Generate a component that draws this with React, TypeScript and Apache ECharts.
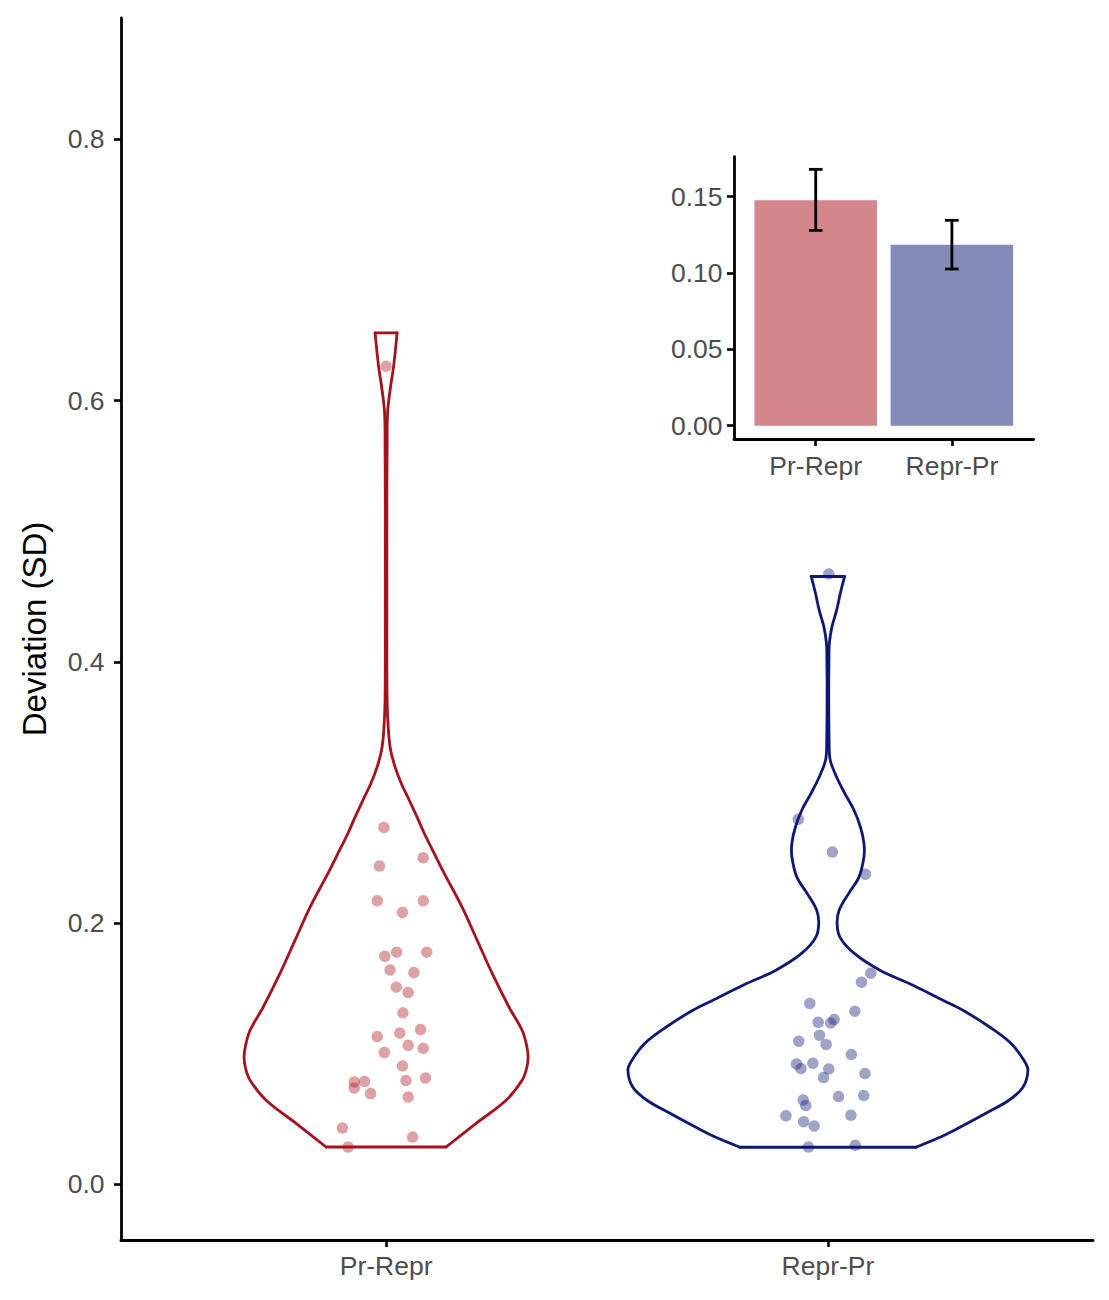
import React, { useEffect, useRef } from "react";
import * as echarts from "echarts";

// ---------- data ----------
const categories = ["Pr-Repr", "Repr-Pr"];
const mainYTicks = [0, 0.2, 0.4, 0.6, 0.8];
const insetYTicks = [0, 0.05, 0.1, 0.15];

// jittered points (value, horizontal jitter in category units)
const prReprY = [0.6263, 0.2733, 0.25, 0.2437, 0.2171, 0.2171, 0.2082, 0.1747, 0.1778, 0.1778, 0.1642, 0.1622, 0.151, 0.1469, 0.1313, 0.1185, 0.1159, 0.1132, 0.1065, 0.1042, 0.1009, 0.0907, 0.0784, 0.0787, 0.0738, 0.0815, 0.0795, 0.0695, 0.0669, 0.0431, 0.0362, 0.0286];
const prReprJitter = [0.0, -0.005, 0.084, -0.015, -0.02, 0.084, 0.037, -0.003, 0.024, 0.092, 0.009, 0.063, 0.023, 0.05, 0.038, 0.078, 0.031, -0.02, 0.05, 0.084, -0.004, 0.037, -0.072, -0.049, -0.072, 0.089, 0.045, -0.035, 0.05, -0.099, 0.06, -0.086];

const reprPrY = [0.4674, 0.2795, 0.2544, 0.2375, 0.1617, 0.1548, 0.1385, 0.1326, 0.1241, 0.1262, 0.1236, 0.1142, 0.1096, 0.1071, 0.0994, 0.0922, 0.0887, 0.0927, 0.0884, 0.0818, 0.0848, 0.0672, 0.068, 0.0646, 0.0603, 0.0526, 0.0529, 0.048, 0.0447, 0.0286, 0.0299];
const reprPrJitter = [0.002, -0.067, 0.01, 0.085, 0.097, 0.076, -0.041, 0.061, -0.022, 0.014, 0.006, -0.019, -0.066, -0.004, 0.053, -0.071, -0.061, -0.034, 0.002, -0.01, 0.084, 0.024, 0.081, -0.056, -0.05, -0.095, 0.052, -0.055, -0.031, -0.044, 0.062];

// violin outlines: value levels (top to bottom) and half-widths in category units
const prReprViolinY = [0.6519, 0.6263, 0.6109, 0.5908, 0.5625, 0.5241, 0.4475, 0.3709, 0.3456, 0.3326, 0.3195, 0.3073, 0.2943, 0.2812, 0.269, 0.2536, 0.2383, 0.2123, 0.187, 0.1617, 0.1356, 0.118, 0.1065, 0.0973, 0.0888, 0.0797, 0.0644, 0.0467, 0.0286];
const prReprViolinW = [0.0249, 0.017, 0.0102, 0.0034, 0.0023, 0.0018, 0.0018, 0.0023, 0.0057, 0.0102, 0.0204, 0.034, 0.0521, 0.0702, 0.086, 0.1086, 0.1313, 0.172, 0.206, 0.2399, 0.2784, 0.3078, 0.318, 0.3214, 0.318, 0.3078, 0.2716, 0.2037, 0.1358];

const reprPrViolinY = [0.4654, 0.4529, 0.4398, 0.4268, 0.4146, 0.4015, 0.3709, 0.3402, 0.3249, 0.3119, 0.2996, 0.2866, 0.2736, 0.2613, 0.2506, 0.2352, 0.223, 0.21, 0.2, 0.1893, 0.177, 0.164, 0.1525, 0.141, 0.1333, 0.1203, 0.108, 0.095, 0.0874, 0.0743, 0.0644, 0.0544, 0.0437, 0.036, 0.0284];
const reprPrViolinW = [0.0378, 0.0283, 0.0199, 0.0091, 0.0034, 0.0023, 0.0018, 0.0027, 0.0052, 0.0197, 0.0378, 0.0589, 0.0736, 0.0815, 0.0815, 0.0702, 0.0475, 0.0256, 0.0208, 0.0272, 0.0589, 0.1177, 0.1924, 0.2603, 0.3056, 0.3667, 0.4142, 0.4436, 0.4527, 0.4414, 0.4097, 0.3576, 0.2988, 0.2535, 0.1992];

// inset bar chart: means and error bar limits
const barMeans = [0.1477, 0.1186];
const barLow = [0.128, 0.1027];
const barHigh = [0.168, 0.1346];

// ---------- styles ----------
const lineColors = ["#a3121d", "#0d1873"];
const pointColors = ["rgba(170,20,32,0.5)", "rgba(16,26,118,0.5)"];
const barColors = ["#d3868c", "#858bb8"];
const FONT = "'Liberation Sans', Arial, sans-serif";
const LABEL = { color: "#4d4d4d", fontSize: 26.5, fontFamily: FONT };
const AXIS_LINE = { show: true, onZero: false, lineStyle: { color: "#000", width: 2.8 } };
const TICK = { show: true, length: 7, lineStyle: { color: "#000", width: 2.6 } };

export default function App() {
  const ref = useRef<HTMLDivElement>(null);
  useEffect(() => {
    document.body.style.margin = "0";
    if (!ref.current) return;
    const chart = echarts.init(ref.current, null, { renderer: "svg" });

    const violins = [
      { y: prReprViolinY, w: prReprViolinW },
      { y: reprPrViolinY, w: reprPrViolinW },
    ];

    const hidden = { show: false };
    const noLine = { show: false, onZero: false };
    const option: any = {
      animation: false,
      backgroundColor: "#fff",
      grid: [
        { left: 121, top: 18, width: 972, height: 1222 }, // 0 main plot
        { left: 121, top: 139.3, width: 972, height: 1045 }, // 1 main y ticks
        { left: 386.1, top: 18, width: 441.8, height: 1222 }, // 2 main x ticks
        { left: 734, top: 156.7, width: 299.6, height: 282.3 }, // 3 inset plot
        { left: 734, top: 196.7, width: 299.6, height: 229 }, // 4 inset y ticks
        { left: 815.7, top: 156.7, width: 136.2, height: 282.3 }, // 5 inset x ticks
      ],
      xAxis: [
        { gridIndex: 0, type: "value", min: 0.4, max: 2.6, axisLine: AXIS_LINE, axisTick: hidden, axisLabel: hidden, splitLine: hidden },
        { gridIndex: 1, type: "value", min: 0.4, max: 2.6, show: false },
        {
          gridIndex: 2, type: "value", min: 1, max: categories.length, interval: 1,
          axisLine: noLine, axisTick: TICK, splitLine: hidden,
          axisLabel: { ...LABEL, margin: 12.5, formatter: (v: number) => categories[Math.round(v) - 1] ?? "" },
        },
        { gridIndex: 3, type: "value", min: 0.4, max: 2.6, axisLine: AXIS_LINE, axisTick: hidden, axisLabel: hidden, splitLine: hidden },
        { gridIndex: 4, type: "value", min: 0.4, max: 2.6, show: false },
        {
          gridIndex: 5, type: "value", min: 1, max: categories.length, interval: 1,
          axisLine: noLine, axisTick: TICK, splitLine: hidden,
          axisLabel: { ...LABEL, margin: 13.5, formatter: (v: number) => categories[Math.round(v) - 1] ?? "" },
        },
      ],
      yAxis: [
        { gridIndex: 0, type: "value", min: -0.0426, max: 0.893, axisLine: AXIS_LINE, axisTick: hidden, axisLabel: hidden, splitLine: hidden },
        {
          gridIndex: 1, type: "value", min: mainYTicks[0], max: mainYTicks[mainYTicks.length - 1],
          interval: mainYTicks[1] - mainYTicks[0],
          axisLine: noLine, axisTick: TICK, splitLine: hidden,
          axisLabel: { ...LABEL, margin: 16.5, formatter: (v: number) => v.toFixed(1) },
        },
        { gridIndex: 2, type: "value", min: 0, max: 1, show: false },
        { gridIndex: 3, type: "value", min: -0.00872, max: 0.17628, axisLine: AXIS_LINE, axisTick: hidden, axisLabel: hidden, splitLine: hidden },
        {
          gridIndex: 4, type: "value", min: insetYTicks[0], max: insetYTicks[insetYTicks.length - 1],
          interval: insetYTicks[1] - insetYTicks[0],
          axisLine: noLine, axisTick: TICK, splitLine: hidden,
          axisLabel: { ...LABEL, margin: 11.5, formatter: (v: number) => v.toFixed(2) },
        },
        { gridIndex: 5, type: "value", min: 0, max: 1, show: false },
      ],
      graphic: [
        {
          type: "text",
          x: 34,
          y: 629,
          rotation: Math.PI / 2,
          style: {
            text: "Deviation (SD)",
            fill: "#000",
            fontSize: 33,
            fontFamily: FONT,
            textAlign: "center",
            textVerticalAlign: "middle",
          },
        },
      ],
      series: [
        {
          type: "custom",
          xAxisIndex: 0,
          yAxisIndex: 0,
          silent: true,
          data: [[1, 0.3], [2, 0.3]],
          renderItem: (params: any, api: any) => {
            const i = params.dataIndex;
            const c = api.value(0);
            const v = violins[i];
            const right = v.y.map((yy, k) => api.coord([c + v.w[k], yy]));
            const left = v.y.map((yy, k) => api.coord([c - v.w[k], yy]));
            const n = right.length - 1;
            const st = { fill: "none", stroke: lineColors[i], lineWidth: 2.8, lineJoin: "round", lineCap: "round" };
            return {
              type: "group",
              children: [
                { type: "polyline", shape: { points: right, smooth: 0.35 }, style: st },
                { type: "polyline", shape: { points: left, smooth: 0.35 }, style: st },
                { type: "line", shape: { x1: left[0][0], y1: left[0][1], x2: right[0][0], y2: right[0][1] }, style: st },
                { type: "line", shape: { x1: left[n][0], y1: left[n][1], x2: right[n][0], y2: right[n][1] }, style: st },
              ],
            };
          },
        },
        {
          type: "scatter",
          xAxisIndex: 0,
          yAxisIndex: 0,
          symbolSize: 11.5,
          itemStyle: { color: pointColors[0] },
          data: prReprY.map((y, k) => [1 + prReprJitter[k], y]),
          z: 3,
        },
        {
          type: "scatter",
          xAxisIndex: 0,
          yAxisIndex: 0,
          symbolSize: 11.5,
          itemStyle: { color: pointColors[1] },
          data: reprPrY.map((y, k) => [2 + reprPrJitter[k], y]),
          z: 3,
        },
        {
          type: "custom",
          xAxisIndex: 3,
          yAxisIndex: 3,
          silent: true,
          data: barMeans.map((m, k) => [k + 1, m]),
          renderItem: (params: any, api: any) => {
            const x = api.value(0);
            const m = api.value(1);
            const p1 = api.coord([x - 0.45, m]);
            const p2 = api.coord([x + 0.45, 0]);
            return {
              type: "rect",
              shape: { x: p1[0], y: p1[1], width: p2[0] - p1[0], height: p2[1] - p1[1] },
              style: { fill: barColors[params.dataIndex] },
            };
          },
        },
        {
          type: "custom",
          xAxisIndex: 3,
          yAxisIndex: 3,
          silent: true,
          z: 4,
          data: barMeans.map((_, k) => [k + 1, barLow[k], barHigh[k]]),
          renderItem: (params: any, api: any) => {
            const x = api.value(0);
            const lo = api.coord([x, api.value(1)]);
            const hi = api.coord([x, api.value(2)]);
            const capL = api.coord([x - 0.05, 0])[0];
            const capR = api.coord([x + 0.05, 0])[0];
            const st = { stroke: "#000", lineWidth: 2.8 };
            return {
              type: "group",
              children: [
                { type: "line", shape: { x1: lo[0], y1: lo[1], x2: hi[0], y2: hi[1] }, style: st },
                { type: "line", shape: { x1: capL, y1: lo[1], x2: capR, y2: lo[1] }, style: st },
                { type: "line", shape: { x1: capL, y1: hi[1], x2: capR, y2: hi[1] }, style: st },
              ],
            };
          },
        },
      ],
    };
    chart.setOption(option);
    return () => chart.dispose();
  }, []);
  return <div ref={ref} style={{ width: 1109, height: 1300 }} />;
}
